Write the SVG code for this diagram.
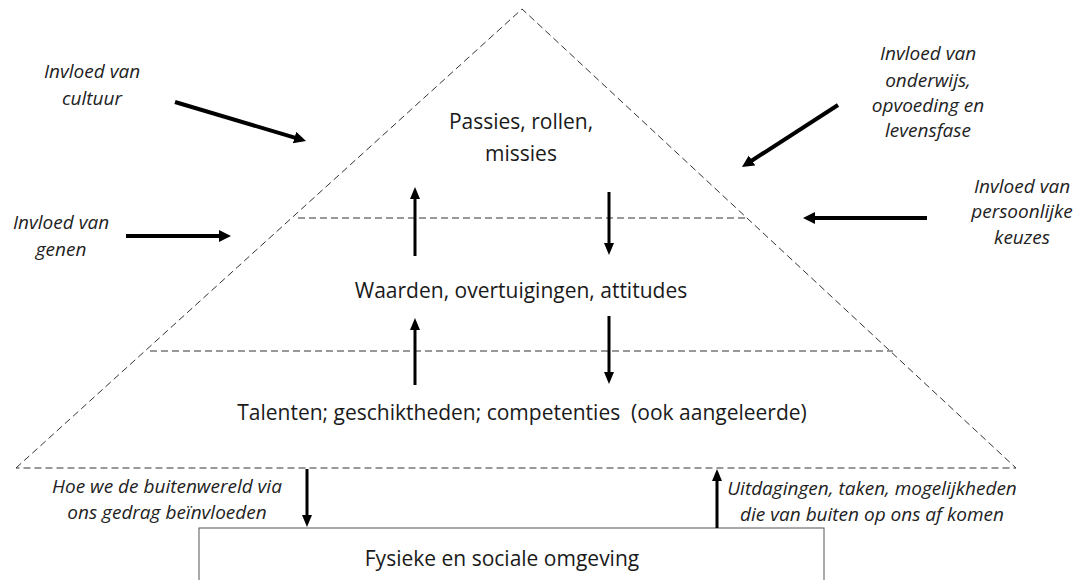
<svg xmlns="http://www.w3.org/2000/svg" width="1078" height="580" viewBox="0 0 1078 580">
<style>
.dash{stroke:#333;stroke-width:1;stroke-dasharray:7,4;fill:none}
.main{font-family:"Open Sans","Liberation Sans",sans-serif;font-size:21px;fill:#1a1a1a;text-anchor:middle}
.it{font-family:"Open Sans","Liberation Sans",sans-serif;font-size:19px;font-style:italic;fill:#222;text-anchor:middle}
.big{stroke:#000;stroke-width:4;fill:none;marker-end:url(#hb)}
.sm{stroke:#000;stroke-width:3;fill:none;marker-end:url(#hs)}
</style>
<defs>
<marker id="hb" markerUnits="userSpaceOnUse" markerWidth="14" markerHeight="14" refX="1" refY="6" orient="auto"><path d="M0,0 L12,6 L0,12 z" fill="#000"/></marker>
<marker id="hs" markerUnits="userSpaceOnUse" markerWidth="14" markerHeight="14" refX="1" refY="5" orient="auto"><path d="M0,0 L12,5 L0,10 z" fill="#000"/></marker>
</defs>
<rect width="1078" height="580" fill="#fff"/>
<g id="pyramid">
<path class="dash" d="M16,468 L522,9 L1016,468 Z"/>
<line class="dash" x1="298" y1="218" x2="749" y2="218"/>
<line class="dash" x1="150" y1="351" x2="893" y2="351"/>
</g>
<g id="level-top"><text class="main" x="521" y="129">Passies, rollen,</text><text class="main" x="521" y="161">missies</text></g>
<g id="level-mid"><text class="main" x="521" y="298">Waarden, overtuigingen, attitudes</text></g>
<g id="level-bottom"><text class="main" x="522" y="420" xml:space="preserve">Talenten; geschiktheden; competenties  (ook aangeleerde)</text></g>
<g id="environment">
<rect x="199" y="528" width="625" height="70" fill="#fff" stroke="#555" stroke-width="1"/>
<text class="main" x="502" y="566">Fysieke en sociale omgeving</text>
</g>
<g id="label-cultuur"><text class="it" x="92" y="78">Invloed van</text><text class="it" x="92" y="105">cultuur</text></g>
<g id="label-genen"><text class="it" x="61" y="229">Invloed van</text><text class="it" x="61" y="256">genen</text></g>
<g id="label-onderwijs"><text class="it" x="928" y="60">Invloed van</text><text class="it" x="928" y="87">onderwijs,</text><text class="it" x="928" y="112">opvoeding en</text><text class="it" x="928" y="137">levensfase</text></g>
<g id="label-keuzes"><text class="it" x="1022" y="193">Invloed van</text><text class="it" x="1022" y="218">persoonlijke</text><text class="it" x="1022" y="244">keuzes</text></g>
<g id="label-gedrag"><text class="it" x="167" y="493">Hoe we de buitenwereld via</text><text class="it" x="167" y="519">ons gedrag beïnvloeden</text></g>
<g id="label-uitdagingen"><text class="it" x="872" y="495">Uitdagingen, taken, mogelijkheden</text><text class="it" x="872" y="521">die van buiten op ons af komen</text></g>
<g id="connectors">
<line class="big" x1="175" y1="102" x2="295.5" y2="137.9"/>
<line class="big" x1="126" y1="236" x2="220" y2="236"/>
<line class="big" x1="838" y1="105" x2="751.2" y2="161"/>
<line class="big" x1="927" y1="218" x2="814" y2="218"/>
<line class="sm" x1="415" y1="256" x2="415" y2="198"/>
<line class="sm" x1="609" y1="192" x2="609" y2="244"/>
<line class="sm" x1="415" y1="385" x2="415" y2="329"/>
<line class="sm" x1="609" y1="316" x2="609" y2="373"/>
<line class="sm" x1="307" y1="469" x2="307" y2="516"/>
<line class="sm" x1="717" y1="528" x2="717" y2="480"/>
</g>
</svg>
